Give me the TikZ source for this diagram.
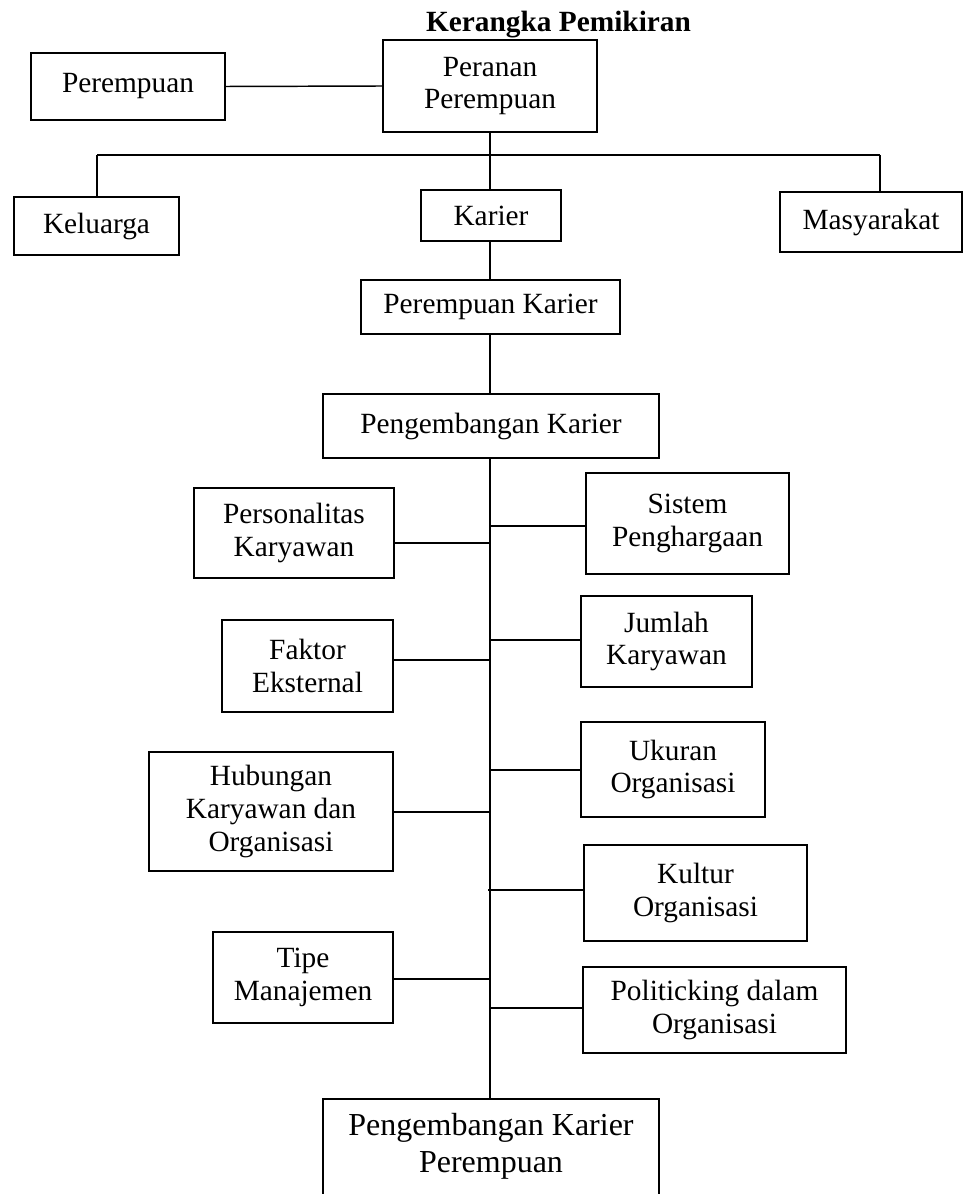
\documentclass[tikz,border=0pt]{standalone}
\usepackage{fontspec}
\setmainfont{Liberation Serif}
\newcommand{\bodyfont}{\fontsize{22}{24.5}\selectfont}
\newcommand{\bigfont}{\fontsize{24}{27.5}\selectfont}
\newcommand{\titlefont}{\bfseries\fontsize{22}{24}\selectfont}
\begin{document}
\begin{tikzpicture}[x=0.75pt,y=-0.75pt,
  box/.style 2 args={draw,line width=1.4pt,inner sep=0pt,align=center,font=\bodyfont,
    minimum width=#1*0.75pt,minimum height=#2*0.75pt},
  conn/.style={line width=1.1pt}]
\useasboundingbox (0,0) rectangle (967,1194);
\clip (0,0) rectangle (967,1194);

\node[font=\titlefont] (title) at (558.5,25) {Kerangka Pemikiran};

\node[box={194}{67}] (perempuan) at (128,86.5) {Perempuan};
\node[box={214}{92}] (peranan) at (490,86) {Peranan\\Perempuan};
\node[box={165}{58}] (keluarga) at (96.5,226) {Keluarga};
\node[box={140}{51}] (karier) at (491,215.5) {Karier};
\node[box={182}{60}] (masyarakat) at (871,222) {Masyarakat};
\node[box={259}{54}] (pk) at (490.5,307) {Perempuan Karier};
\node[box={336}{64}] (pengk) at (491,426) {Pengembangan Karier};
\node[box={200}{90}] (personalitas) at (294,533) {Personalitas\\Karyawan};
\node[box={203}{101}] (sistem) at (687.5,523.5) {Sistem\\Penghargaan};
\node[box={171}{92}] (faktor) at (307.5,666) {Faktor\\Eksternal};
\node[box={171}{91}] (jumlah) at (666.5,641.5) {Jumlah\\Karyawan};
\node[box={244}{119}] (hubungan) at (271,811.5) {Hubungan\\Karyawan dan\\Organisasi};
\node[box={184}{95}] (ukuran) at (673,769.5) {Ukuran\\Organisasi};
\node[box={223}{96}] (kultur) at (695.5,893) {Kultur\\Organisasi};
\node[box={180}{91}] (tipe) at (303,977.5) {Tipe\\Manajemen};
\node[box={263}{86}] (politicking) at (714.5,1010) {Politicking dalam\\Organisasi};
\node[box={336}{140},anchor=north] (akhir) at (491,1098) {};
\node[font=\bigfont,align=center,inner sep=0pt] (akhirtxt) at (491,1146.5) {Pengembangan Karier\\Perempuan};

\coordinate (busL) at (97,155);
\coordinate (busM) at (490,155);
\coordinate (busR) at (880,155);

\draw[conn] (perempuan.east) -- (peranan.west);
\draw[conn] (peranan.south -| busM) -- (busM);
\draw[conn] (busL) -- (busR);
\draw[conn] (busL) -- (busL |- keluarga.north);
\draw[conn] (busR) -- (busR |- masyarakat.north);
\draw[conn] (busM) -- (busM |- karier.north);
\draw[conn] (busM |- karier.south) -- (busM |- pk.north);
\draw[conn] (busM |- pk.south) -- (busM |- pengk.north);
\draw[conn] (busM |- pengk.south) -- (busM |- akhir.north);

\coordinate (b1) at (490,543);
\coordinate (b2) at (490,526);
\coordinate (b3) at (490,660);
\coordinate (b4) at (490,640);
\coordinate (b5) at (490,812);
\coordinate (b6) at (490,770);
\coordinate (b7) at (488,890);
\coordinate (b8) at (490,979);
\coordinate (b9) at (490,1008);

\draw[conn] (b1) -- (b1 -| personalitas.east);
\draw[conn] (b2) -- (b2 -| sistem.west);
\draw[conn] (b3) -- (b3 -| faktor.east);
\draw[conn] (b4) -- (b4 -| jumlah.west);
\draw[conn] (b5) -- (b5 -| hubungan.east);
\draw[conn] (b6) -- (b6 -| ukuran.west);
\draw[conn] (b7) -- (b7 -| kultur.west);
\draw[conn] (b8) -- (b8 -| tipe.east);
\draw[conn] (b9) -- (b9 -| politicking.west);
\end{tikzpicture}
\end{document}
